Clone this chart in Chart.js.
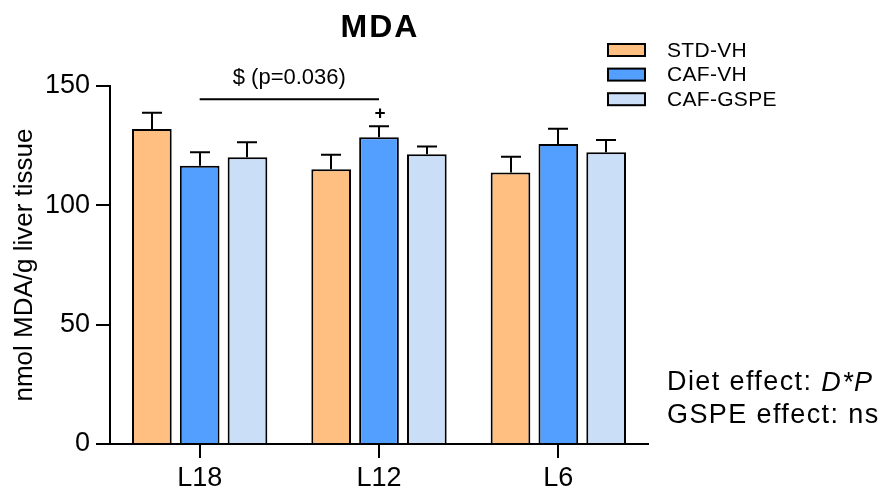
<!DOCTYPE html>
<html>
<head>
<meta charset="utf-8">
<script src="https://cdn.jsdelivr.net/npm/chart.js@4/dist/chart.umd.min.js"></script>
<style>
  html, body { margin: 0; padding: 0; background: #fff; }
  #wrap { width: 884px; height: 489px; }
</style>
</head>
<body>
<div id="wrap"><canvas id="c" width="884" height="489"></canvas></div>
<script>
// Liver MDA content per group and litter
const categories = ['L18', 'L12', 'L6'];
const seriesNames = ['STD-VH', 'CAF-VH', 'CAF-GSPE'];
const stdVh = [132.0, 115.1, 113.8];
const cafVh = [116.6, 128.5, 125.7];
const cafGspe = [120.1, 121.4, 122.2];
const stdVhSem = [6.8, 6.1, 6.6];
const cafVhSem = [5.6, 4.6, 6.4];
const cafGspeSem = [6.3, 3.2, 5.2];
const yTicks = [0, 50, 100, 150];
const statLines = ['Diet effect: ', 'D*P', 'GSPE effect: ns'];

const FONT = '"Liberation Sans", Arial, Helvetica, sans-serif';
const colors = ['#FFBF80', '#539FFF', '#CADEF8'];

const datasets = [stdVh, cafVh, cafGspe].map((vals, i) => ({
  label: seriesNames[i],
  data: vals,
  sem: [stdVhSem, cafVhSem, cafGspeSem][i],
  backgroundColor: colors[i],
  borderColor: '#000',
  borderWidth: 2,
  borderSkipped: 'bottom',
  categoryPercentage: 0.8,
  barPercentage: 0.83
}));

// Upward SEM whiskers, legend, title and statistics text
const decorations = {
  id: 'decorations',
  afterDatasetsDraw(chart) {
    const ctx = chart.ctx;
    const y = chart.scales.y;
    ctx.save();
    ctx.strokeStyle = '#000';
    ctx.lineWidth = 2;
    chart.data.datasets.forEach((ds, di) => {
      const meta = chart.getDatasetMeta(di);
      meta.data.forEach((bar, i) => {
        const top = y.getPixelForValue(ds.data[i] + ds.sem[i]);
        const x = Math.round(bar.x);
        ctx.beginPath();
        ctx.moveTo(x, bar.y);
        ctx.lineTo(x, top);
        ctx.moveTo(x - 10, top);
        ctx.lineTo(x + 10, top);
        ctx.stroke();
      });
    });
    ctx.restore();
  },
  afterDraw(chart) {
    const ctx = chart.ctx;
    const x = chart.scales.x;
    const y = chart.scales.y;
    const area = chart.chartArea;
    ctx.save();
    ctx.fillStyle = '#000';
    ctx.strokeStyle = '#000';

    // title
    ctx.font = 'bold 32px ' + FONT;
    ctx.letterSpacing = '2px';
    ctx.textAlign = 'center';
    ctx.textBaseline = 'middle';
    ctx.fillText('MDA', (area.left + area.right) / 2 + 1, 28);
    ctx.letterSpacing = '0px';

    // L18 vs L12 comparison bracket
    const cafMeta = chart.getDatasetMeta(1);
    const x0 = x.getPixelForValue(0);
    const x1 = cafMeta.data[1].x;
    const yb = y.getPixelForValue(144.4);
    ctx.lineWidth = 2;
    ctx.beginPath();
    ctx.moveTo(x0, yb);
    ctx.lineTo(x1, yb);
    ctx.stroke();
    ctx.font = '22px ' + FONT;
    ctx.fillText('$ (p=0.036)', (x0 + x1) / 2, y.getPixelForValue(153.5));
    ctx.font = 'bold 19px ' + FONT;
    ctx.fillText('+', x1 + 1, y.getPixelForValue(138.2));

    // legend
    ctx.textAlign = 'left';
    ctx.font = '21px ' + FONT;
    ctx.letterSpacing = '0.3px';
    chart.data.datasets.forEach((ds, i) => {
      const cy = 50 + i * 24.6;
      ctx.fillStyle = ds.backgroundColor;
      ctx.fillRect(608, cy - 6, 37, 12);
      ctx.lineWidth = 2;
      ctx.strokeRect(608, cy - 6, 37, 12);
      ctx.fillStyle = '#000';
      ctx.fillText(ds.label, 667, cy + 1);
    });

    // statistics summary
    ctx.letterSpacing = '1.4px';
    ctx.font = '27px ' + FONT;
    ctx.fillText(statLines[0], 667, 383);
    const w = ctx.measureText(statLines[0]).width;
    ctx.font = 'italic 27px ' + FONT;
    ctx.fillText(statLines[1], 667 + w, 383);
    ctx.font = '27px ' + FONT;
    ctx.fillText(statLines[2], 667, 416);
    ctx.restore();
  }
};

new Chart(document.getElementById('c'), {
  type: 'bar',
  data: { labels: categories, datasets },
  options: {
    responsive: false,
    animation: false,
    devicePixelRatio: 1,
    layout: { padding: { top: 86, right: 236, bottom: 0, left: 0 } },
    plugins: { legend: { display: false }, tooltip: { enabled: false } },
    scales: {
      x: {
        offset: true,
        grid: { offset: false, drawOnChartArea: false, drawTicks: true, tickLength: 14, color: '#000', lineWidth: 2 },
        border: { display: true, color: '#000', width: 2 },
        ticks: { color: '#000', font: { family: FONT, size: 27 }, padding: 4 },
        afterFit(scale) { scale.height = 45; }
      },
      y: {
        min: 0,
        max: 150,
        afterBuildTicks(scale) { scale.ticks = yTicks.map(v => ({ value: v })); },
        grid: { drawOnChartArea: false, drawTicks: true, tickLength: 14, color: '#000', lineWidth: 2 },
        border: { display: true, color: '#000', width: 2 },
        ticks: { color: '#000', font: { family: FONT, size: 27 }, padding: 6 },
        title: { display: true, text: 'nmol MDA/g liver tissue', color: '#000', font: { family: FONT, size: 26 }, padding: { top: 9, bottom: 0 } },
        afterFit(scale) { scale.width = 110; }
      }
    }
  },
  plugins: [decorations]
});
</script>
</body>
</html>
